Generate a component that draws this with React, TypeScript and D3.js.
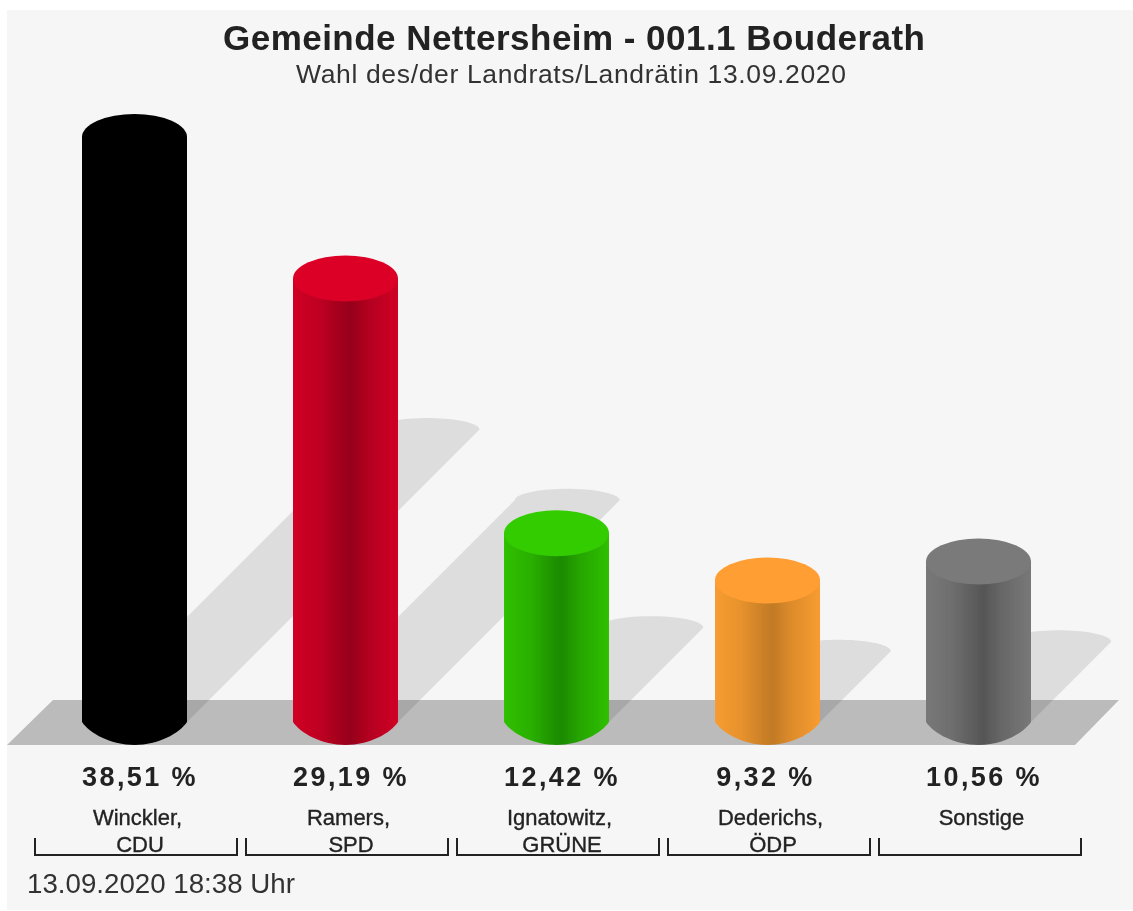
import React from "react";
import * as d3 from "d3";

const title = "Gemeinde Nettersheim - 001.1 Bouderath";
const subtitle = "Wahl des/der Landrats/Landrätin 13.09.2020";
const stamp = "13.09.2020 18:38 Uhr";
const firstLine = ["Winckler,", "Ramers,", "Ignatowitz,", "Dederichs,", "Sonstige"];
const secondLine = ["CDU", "SPD", "GRÜNE", "ÖDP", ""];
const values = [38.51, 29.19, 12.42, 9.32, 10.56];
const valueLabels = ["38,51 %", "29,19 %", "12,42 %", "9,32 %", "10,56 %"];
const topColors = ["#000000", "#dc0028", "#33cc00", "#ff9e33", "#7a7a7a"];
const edgeColors = ["#000000", "#d00025", "#30c000", "#f79c30", "#787878"];
const darkColors = ["#000000", "#96001a", "#1c8a00", "#c27a26", "#565656"];

const W = 1133, H = 911;
const baseY = 722, rx = 52.5, ry = 23, shadowRy = 11.5;

const x = d3.scaleBand<number>().domain(d3.range(values.length)).range([29, 1084]).paddingInner(0).paddingOuter(0);
const h = d3.scaleLinear().domain([0, 38.51]).range([0, 585]);

function cylinder(cx: number, top: number) {
  const p = d3.path();
  p.moveTo(cx - rx, top);
  p.lineTo(cx - rx, baseY);
  p.bezierCurveTo(cx - rx * 0.85, baseY + ry * 0.5, cx - rx * 0.45, baseY + ry, cx, baseY + ry);
  p.bezierCurveTo(cx + rx * 0.45, baseY + ry, cx + rx * 0.85, baseY + ry * 0.5, cx + rx, baseY);
  p.lineTo(cx + rx, top);
  p.closePath();
  return p.toString();
}

function shadowPath(cx: number, height: number) {
  const d = height / 2;
  const sx = cx + d, sy = baseY - d;
  const arc = d3.range(0, 37).map((i) => {
    const t = Math.PI + (i / 36) * Math.PI;
    return [sx + Math.cos(t) * rx, sy + Math.sin(t) * shadowRy] as [number, number];
  });
  return d3.line()([...arc, [cx + rx, baseY], [cx - rx, baseY]])! + "Z";
}

const mix = (a: string, b: string, t: number) => d3.interpolateRgb(a, b)(t);

export default function App() {
  return (
    <svg width={W} height={H} style={{ position: "absolute", left: 0, top: 0, display: "block" }}>
      <defs>
        {values.map((_, i) => (
          <linearGradient id={`side${i}`} key={i} x1="0" x2="1" y1="0" y2="0">
            <stop offset="0" stopColor={edgeColors[i]} />
            <stop offset="0.25" stopColor={mix(edgeColors[i], darkColors[i], 0.3)} />
            <stop offset="0.45" stopColor={mix(edgeColors[i], darkColors[i], 0.8)} />
            <stop offset="0.55" stopColor={darkColors[i]} />
            <stop offset="0.72" stopColor={mix(edgeColors[i], darkColors[i], 0.5)} />
            <stop offset="1" stopColor={edgeColors[i]} />
          </linearGradient>
        ))}
        <filter id="soft" x="-5%" y="-5%" width="110%" height="110%">
          <feGaussianBlur stdDeviation="0.6" />
        </filter>
      </defs>
      <rect x={7} y={10} width={1126} height={900} fill="#f6f6f6" />
      <g filter="url(#soft)">
        <path d={d3.line()([[7, 745], [53, 700], [1119, 700], [1075, 745]])! + "Z"} fill="#bbbbbb" />
        {values.map((v, i) => (
          <path key={i} d={shadowPath(x(i)! + x.bandwidth() / 2, h(v))} fill="#000" fillOpacity={0.1} />
        ))}
        {values.map((v, i) => {
          const cx = x(i)! + x.bandwidth() / 2;
          const top = baseY - h(v);
          return (
            <g key={i}>
              <path d={cylinder(cx, top)} fill={`url(#side${i})`} />
              <ellipse cx={cx} cy={top} rx={rx} ry={ry} fill={topColors[i]} />
            </g>
          );
        })}
      </g>
      <g fontFamily="Liberation Sans, Arial, sans-serif" textAnchor="middle" fill="#222" filter="url(#soft)">
        <text x={574} y={50} fontSize={35} fontWeight="bold" textLength={702} lengthAdjust="spacing">{title}</text>
        <text x={571} y={83} fontSize={26.5} fill="#333" textLength={550} lengthAdjust="spacing">{subtitle}</text>
        {values.map((_, i) => {
          const cx = x(i)! + x.bandwidth() / 2;
          const dx = valueLabels[i].length < 7 ? -2 : 5.5;
          return (
            <g key={i}>
              <text x={cx + dx} y={786} fontSize={27} fontWeight="bold" letterSpacing={2.4}>{valueLabels[i]}</text>
              <text x={cx + 3} y={825} fontSize={22} stroke="#222" strokeWidth={0.35}>{firstLine[i]}</text>
              <text x={cx + 5.5} y={852} fontSize={22} stroke="#222" strokeWidth={0.35}>{secondLine[i]}</text>
              <path d={`M${x(i)! + 6},838V855H${x(i)! + 208}V838`} fill="none" stroke="#222" strokeWidth={2} />
            </g>
          );
        })}
        <text x={27} y={893} fontSize={27.7} textAnchor="start" fill="#333">{stamp}</text>
      </g>
    </svg>
  );
}
